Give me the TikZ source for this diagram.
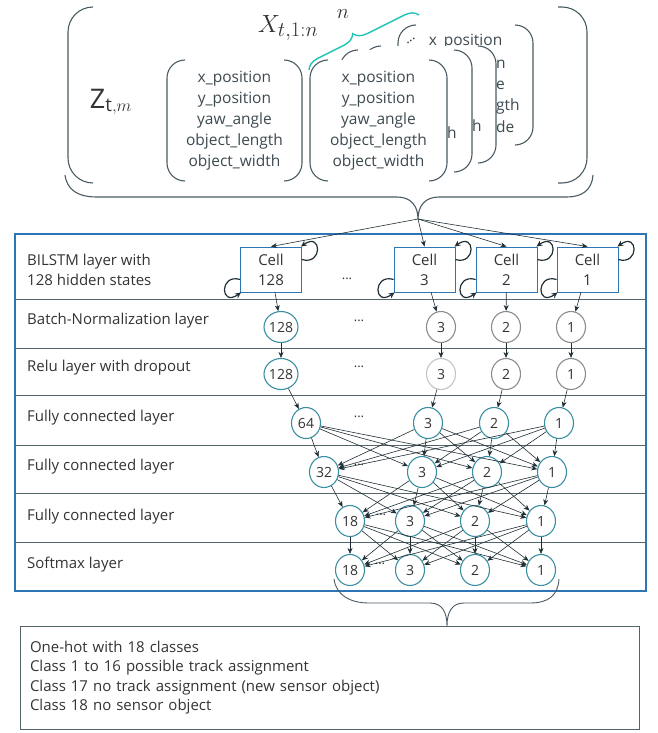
\documentclass[tikz,border=0pt]{standalone}
\usepackage{fontspec}
\setmainfont{Open Sans}
\usetikzlibrary{arrows.meta,shapes.geometric,decorations.pathreplacing,calc}
\definecolor{txt}{HTML}{333333}
\definecolor{slate}{HTML}{3D4A50}
\definecolor{brkc}{HTML}{4A5B63}
\definecolor{rowc}{HTML}{55656C}
\definecolor{frameblue}{HTML}{2E75B6}
\definecolor{cellblue}{HTML}{2E75B6}
\definecolor{tealc}{HTML}{3A8FA3}
\definecolor{greyc}{HTML}{8C8C8C}
\definecolor{lgreyc}{HTML}{C4C4C4}
\definecolor{arrc}{HTML}{1F2E35}
\definecolor{turq}{HTML}{22C3B5}
\newcommand{\featframe}[4]{%
  \fill[white, rounded corners=18pt] (#1,#2) rectangle (#3,#4);
  \draw[brk, rounded corners=18pt] (#1+18,#2) -- (#1,#2) -- (#1,#4) -- (#1+18,#4);
  \draw[brk, rounded corners=18pt] (#3-18,#2) -- (#3,#2) -- (#3,#4) -- (#3-18,#4);
}
\newcommand{\featbox}[5]{%
  \featframe{#1}{#2}{#3}{#4}
  \node[ftxt] (#5) at ({(#1+#3)/2},{(#2+#4)/2}) {x\_position\\y\_position\\yaw\_angle\\object\_length\\object\_width};
}
\begin{document}
\begin{tikzpicture}[x=1pt,y=-1pt,
  brk/.style={draw=brkc, line width=1.1pt},
  ftxt/.style={font=\fontsize{15.5}{21}\selectfont, text=slate, align=center, inner sep=0},
  frag/.style={font=\fontsize{15.5}{21}\selectfont, text=slate, anchor=west, inner sep=0},
  lbl/.style={anchor=west, font=\fontsize{15}{20}\selectfont, text=txt, align=left, inner sep=0},
  cellbox/.style={draw=cellblue, line width=0.9pt, fill=white, minimum width=61pt, minimum height=45pt, inner sep=0, align=center, font=\fontsize{15}{20}\selectfont, text=txt},
  neu/.style={ellipse, draw=tealc, fill=white, line width=1.1pt, minimum width=29pt, minimum height=31pt, inner sep=0, font=\fontsize{14}{14}\selectfont, text=txt},
  neug/.style={neu, draw=greyc},
  neul/.style={neu, draw=lgreyc},
  dotsn/.style={font=\fontsize{13}{13}\selectfont, text=txt, inner sep=0},
  arr/.style={-{Stealth[length=6pt,width=5pt]}, draw=arrc, line width=0.6pt},
  loopar/.style={-{Stealth[length=6pt,width=5.5pt]}, draw=arrc, line width=1.2pt},
  rowline/.style={draw=rowc, line width=1pt},
  frame/.style={draw=frameblue, line width=2pt},
  outbox/.style={draw=rowc, line width=1pt, minimum width=619pt, minimum height=103pt, text width=599pt, inner xsep=10pt, align=left, font=\fontsize{15}{19.5}\selectfont, text=txt},
  tealbrace/.style={draw=turq, line width=1.4pt, decorate, decoration={brace, amplitude=13pt, aspect=0.45}}
]
\useasboundingbox (0,0) rectangle (657,733);

% ---------- top: input tensor ----------
\draw[brk, rounded corners=25pt] (93,7) -- (68,7) -- (68,183) -- (93,183);
\draw[brk, rounded corners=25pt] (558,7) -- (587,7) -- (587,183) -- (558,183);
\node[font=\fontsize{27}{27}\selectfont, text=txt, inner sep=0] (zlab) at (111,102) {$\mathrm{Z}_{\mathrm{t},m}$};
\node[font=\fontsize{30}{30}\selectfont, text=txt, inner sep=0] (xlab) at (288,28) {$X_{t,1{:}n}$};
\node[font=\fontsize{22}{22}\selectfont, text=txt, inner sep=0] (nlab) at (343,14) {$n$};

\featbox{167}{60}{302}{181}{bx1}
% stacked copies behind the front box
\featframe{398}{25}{533}{145}
\node[ftxt] (bx5) at (465.5,42) {x\_position};
\node[dotsn, rotate=35] (bxdots) at (411,41) {...};
\featframe{363}{46}{496}{163}
\node[frag] (bx5a) at (496,64) {n};
\node[frag] (bx5b) at (496,85) {e};
\node[frag] (bx5c) at (496,106) {gth};
\node[frag] (bx5d) at (496,127) {de};
\featframe{340}{50}{472}{172}
\node[frag] (bx4a) at (472,126) {h};
\featbox{310}{60}{447}{181}{bx2}
\node[frag] (bx3a) at (447,133) {h};

\draw[tealbrace] (309,70) -- (419,15);

% brace below input
\draw[brk] (65,175) .. controls (67,190) and (78,197) .. (97,197) -- (397,197)
  .. controls (411,197) and (418,206) .. (418,219)
  .. controls (418,206) and (425,197) .. (439,197) -- (567,197)
  .. controls (582,197) and (592,190) .. (593,175);
\coordinate (tip) at (418,219);

% ---------- network frame ----------
\foreach \y in {299,348,395,445,493,542} \draw[rowline] (15,\y) -- (646,\y);
\draw[frame] (15,234) rectangle (646,591);

\node[lbl] (l1) at (27,270) {BILSTM layer with\\128 hidden states};
\node[lbl] (l2) at (27,321) {Batch-Normalization layer};
\node[lbl] (l3) at (27,368) {Relu layer with dropout};
\node[lbl] (l4) at (27,418) {Fully connected layer};
\node[lbl] (l5) at (27,467) {Fully connected layer};
\node[lbl] (l6) at (27,517) {Fully connected layer};
\node[lbl] (l7) at (27,565) {Softmax layer};

% cells
\node[cellbox] (c128) at (271,269.5) {Cell\\128};
\node[cellbox] (c3) at (424.5,269.5) {Cell\\3};
\node[cellbox] (c2) at (506.5,269.5) {Cell\\2};
\node[cellbox] (c1) at (587.5,269.5) {Cell\\1};
\node[dotsn] (d1) at (347,279) {...};

\foreach \c in {c128,c3,c2,c1} {
  \draw[loopar] ($(\c.north east)+(0,13)$) .. controls +(21,6) and +(21,-15) .. ($(\c.north east)+(-1,0)$);
  \draw[loopar] ($(\c.south west)+(0,-13)$) .. controls +(-21,-6) and +(-21,15) .. ($(\c.south west)+(1,0)$);
  \draw[arr] (tip) -- (\c.north);
}

% batch norm
\node[neu] (b128) at (281,327) {128};
\node[neug] (b3) at (441,327) {3};
\node[neug] (b2) at (506,327) {2};
\node[neug] (b1) at (571,327) {1};
\node[dotsn] (d2) at (359,321) {...};
% relu
\node[neu] (r128) at (281,374) {128};
\node[neul] (r3) at (441,374) {3};
\node[neug] (r2) at (506,374) {2};
\node[neug] (r1) at (571,374) {1};
\node[dotsn] (d3) at (359,367) {...};
% fc1
\node[neu] (f64) at (306,423) {64};
\node[neu] (f3) at (428,423) {3};
\node[neu] (f2) at (494,423) {2};
\node[neu] (f1) at (559,423) {1};
\node[dotsn] (d4) at (359,417) {...};
% fc2
\node[neu] (g32) at (324,472) {32};
\node[neu] (g3) at (422,472) {3};
\node[neu] (g2) at (487,472) {2};
\node[neu] (g1) at (552,472) {1};
\node[dotsn] (d5) at (359,465) {...};
% fc3
\node[neu] (h18) at (350,521) {18};
\node[neu] (h3) at (410,521) {3};
\node[neu] (h2) at (475,521) {2};
\node[neu] (h1) at (541,521) {1};
\node[dotsn] (d6) at (381,515) {...};
% softmax
\node[neu] (s18) at (350,570) {18};
\node[neu] (s3) at (410,570) {3};
\node[neu] (s2) at (475,570) {2};
\node[neu] (s1) at (541,570) {1};
\node[dotsn] (d7) at (380,564) {...};

\draw[arr] (c128) -- (b128);
\draw[arr] (c3) -- (b3);
\draw[arr] (c2) -- (b2);
\draw[arr] (c1) -- (b1);
\draw[arr] (b128) -- (r128);
\draw[arr] (b3) -- (r3);
\draw[arr] (b2) -- (r2);
\draw[arr] (b1) -- (r1);
\draw[arr] (r128) -- (f64);
\draw[arr] (r3) -- (f3);
\draw[arr] (r2) -- (f2);
\draw[arr] (r1) -- (f1);
\foreach \a in {f64,f3,f2,f1} \foreach \b in {g32,g3,g2,g1} \draw[arr] (\a) -- (\b);
\foreach \a in {g32,g3,g2,g1} \foreach \b in {h18,h3,h2,h1} \draw[arr] (\a) -- (\b);
\foreach \a in {h18,h3,h2,h1} \foreach \b in {s18,s3,s2,s1} \draw[arr] (\a) -- (\b);

% brace below softmax
\draw[brk, line width=0.9pt] (334,579) .. controls (336,595) and (350,603) .. (369,603) -- (430,603)
  .. controls (442,603) and (447,612) .. (447,626)
  .. controls (447,612) and (452,603) .. (464,603) -- (530,603)
  .. controls (549,603) and (558,595) .. (559,579);

% output
\node[outbox] (out) at (329.5,677.5) {One-hot with 18 classes\\Class 1 to 16 possible track assignment\\Class 17 no track assignment (new sensor object)\\Class 18 no sensor object};
\end{tikzpicture}
\end{document}
